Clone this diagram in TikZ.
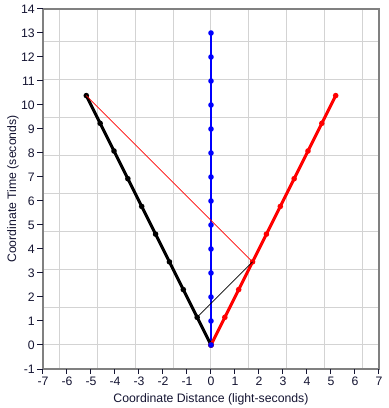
\documentclass[tikz,border=0pt]{standalone}
\usepackage{fontspec}
\setmainfont{Liberation Sans}
\definecolor{gridc}{RGB}{211,211,211}
\definecolor{framec}{RGB}{128,128,128}
\definecolor{textc}{RGB}{20,20,50}
\begin{document}
\begin{tikzpicture}[x=18pt,y=18pt,
  lbl/.style={font=\fontsize{9.2}{11}\selectfont, text=textc, inner sep=0pt},
  worldline/.style={line width=2.2pt},
  ray/.style={line width=0.5pt},
  dot/.style={circle, fill, inner sep=0pt, minimum size=4.2pt}]
\useasboundingbox (-8.7917,-2.625) rectangle (7.4167,14.375);
% grid
\draw[gridc, line width=0.75pt] (-7,-1) grid (7,14);
% frame
\draw[framec, line width=1.1pt] (-7,-1) rectangle (7,14);
% ticks and labels
\foreach \x in {-7,...,7} {
  \draw[textc, line width=0.75pt] (\x,-1) -- (\x,-1.22);
  \node[lbl, anchor=north] (xl\x) at (\x,-1.32) {\x};
}
\foreach \y in {-1,...,14} {
  \draw[textc, line width=0.75pt] (-7,\y) -- (-7.25,\y);
  \node[lbl, anchor=east] (yl\y) at (-7.33,\y) {\y};
}
\node[lbl, anchor=north] (xlab) at (0,-2.0) {Coordinate Distance (light-seconds)};
\node[lbl, rotate=90] (ylab) at (-8.25,6.5) {Coordinate Time (seconds)};
% world lines
\coordinate (o) at (0,0);
\coordinate (bend) at (-5.196,10.392);
\coordinate (rend) at (5.196,10.392);
\coordinate (blend) at (0,13);
\draw[blue, worldline] (o) -- (blend);
\draw[black, worldline] (o) -- (bend);
\draw[red, worldline] (o) -- (rend);
\foreach \k in {0,...,13} { \node[dot, blue] (b\k) at (0,\k) {}; }
\foreach \k in {0,...,9} {
  \node[dot, black] (k\k) at (-0.57735*\k,1.1547*\k) {};
  \node[dot, red] (r\k) at (0.57735*\k,1.1547*\k) {};
}
% light rays
\draw[red, ray] (k9.center) -- (r3.center);
\draw[black, ray] (r3.center) -- (k1.center);
\node[dot, blue] at (0,0) {};
\end{tikzpicture}
\end{document}
